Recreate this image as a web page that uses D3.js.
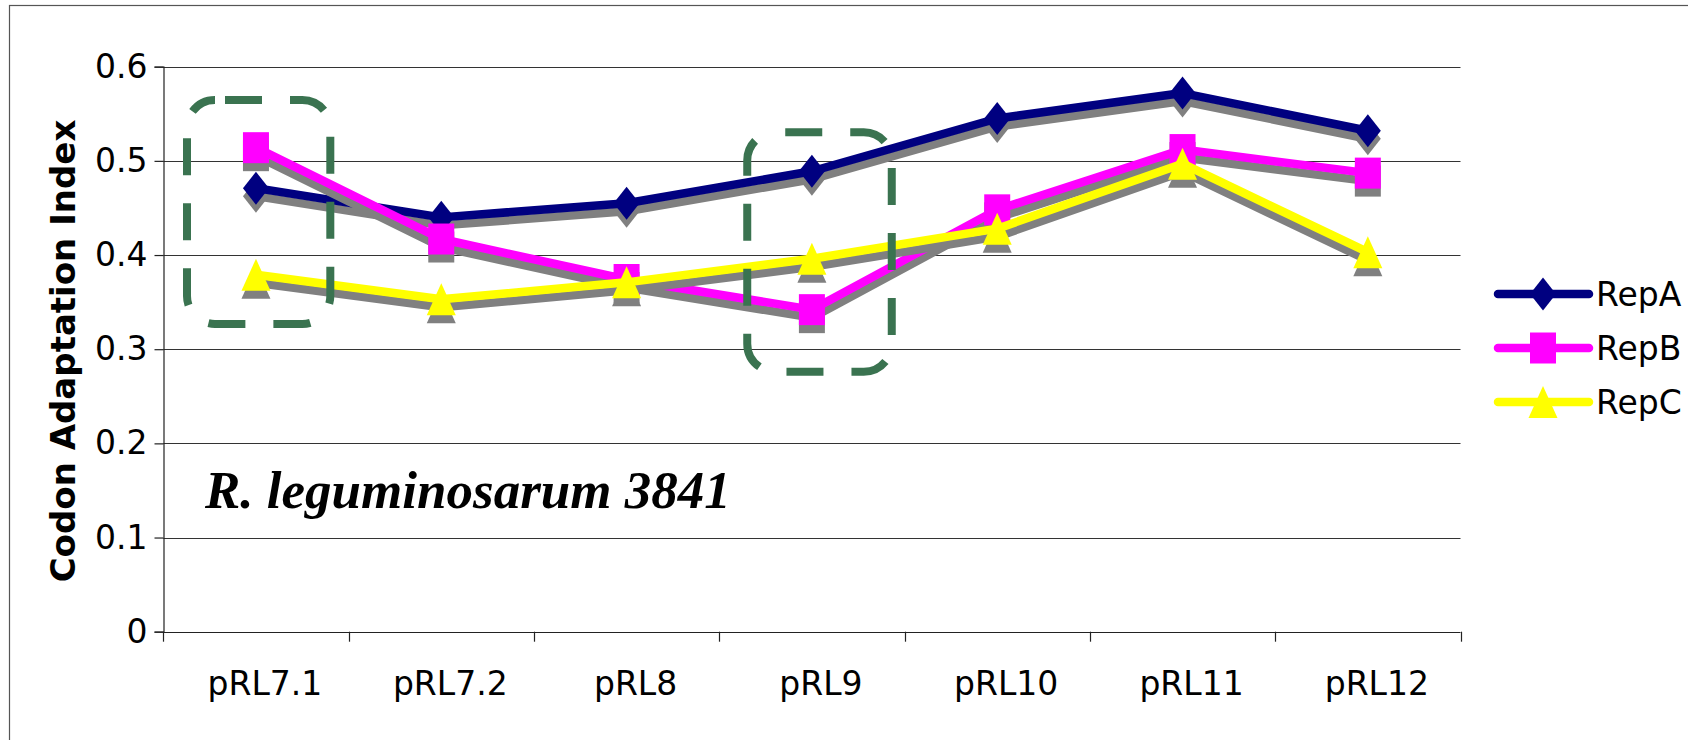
<!DOCTYPE html>
<html>
<head>
<meta charset="utf-8">
<script src="https://cdn.jsdelivr.net/npm/d3@7"></script>
<style>
  html, body { margin: 0; padding: 0; background: #fff; }
  svg { display: block; }
</style>
</head>
<body>
<svg id="chart" width="1688" height="740"></svg>
<script>
// Plasmids on the category axis
const categories = ["pRL7.1", "pRL7.2", "pRL8", "pRL9", "pRL10", "pRL11", "pRL12"];
// Codon adaptation index of each replication gene
const repA = [0.471, 0.440, 0.455, 0.489, 0.545, 0.572, 0.532];
const repB = [0.514, 0.417, 0.374, 0.342, 0.448, 0.512, 0.487];
const repC = [0.379, 0.353, 0.371, 0.396, 0.428, 0.497, 0.403];
const seriesNames = ["RepA", "RepB", "RepC"];
const yTicks = [0, 0.1, 0.2, 0.3, 0.4, 0.5, 0.6];
// Highlighted plasmids (value ranges enclosed by the dashed frames)
const highlights = [
  { category: "pRL7.1", top: 0.5646, bottom: 0.3268 },
  { category: "pRL9", top: 0.5303, bottom: 0.2761 }
];

const svg = d3.select("#chart");
const plot = { left: 163.3, right: 1460.5, top: 66.7, bottom: 631.7 };

const x = d3.scaleBand().domain(categories).range([plot.left, plot.right]);
const y = d3.scaleLinear().domain([0, 0.6]).range([plot.bottom, plot.top]);

const series = [
  { name: seriesNames[0], values: repA, color: "#000080", shape: "diamond" },
  { name: seriesNames[1], values: repB, color: "#ff00ff", shape: "square" },
  { name: seriesNames[2], values: repC, color: "#ffff00", shape: "triangle" }
];

// Outer chart frame
svg.append("rect")
  .attr("x", 9.5).attr("y", 5.5)
  .attr("width", 1700).attr("height", 760)
  .attr("fill", "none").attr("stroke", "#555").attr("stroke-width", 1.2);

// Horizontal gridlines
svg.append("g")
  .selectAll("line")
  .data(yTicks.filter(d => d > 0))
  .join("line")
  .attr("x1", plot.left).attr("x2", plot.right)
  .attr("y1", d => Math.round(y(d)) + 0.5).attr("y2", d => Math.round(y(d)) + 0.5)
  .attr("stroke", "#333").attr("stroke-width", 1.2);

// Y axis
const yAxis = d3.axisLeft(y).tickValues(yTicks).tickSize(9).tickPadding(7)
  .tickFormat(d => d === 0 ? "0" : d3.format(".1f")(d));
const gy = svg.append("g")
  .attr("transform", `translate(${Math.round(plot.left) + 0.5},0)`)
  .call(yAxis);
gy.select(".domain").attr("stroke", "#222").attr("stroke-width", 1.2);
gy.selectAll(".tick line").attr("stroke", "#222").attr("stroke-width", 1.2);
gy.selectAll(".tick text")
  .attr("font-family", "'DejaVu Sans', Verdana, sans-serif")
  .attr("font-size", 33).attr("fill", "#000");

// X axis with tick marks between categories
const xAxisLine = svg.append("g");
xAxisLine.append("line")
  .attr("x1", plot.left).attr("x2", plot.right)
  .attr("y1", Math.round(plot.bottom) + 0.5).attr("y2", Math.round(plot.bottom) + 0.5)
  .attr("stroke", "#222").attr("stroke-width", 1.2);
const boundaries = categories.map(c => x(c)).concat([x.range()[1]]);
xAxisLine.selectAll("line.tick")
  .data(boundaries)
  .join("line")
  .attr("class", "tick")
  .attr("x1", d => Math.round(d) + 0.5).attr("x2", d => Math.round(d) + 0.5)
  .attr("y1", plot.bottom).attr("y2", plot.bottom + 10)
  .attr("stroke", "#222").attr("stroke-width", 1.2);
xAxisLine.selectAll("text")
  .data(categories)
  .join("text")
  .attr("x", d => x(d) + x.bandwidth() / 2 + 9)
  .attr("y", 695)
  .attr("text-anchor", "middle")
  .attr("font-family", "'DejaVu Sans', Verdana, sans-serif")
  .attr("font-size", 33).attr("fill", "#000")
  .text(d => d);

// Y axis title
svg.append("text")
  .attr("transform", "translate(75,351) rotate(-90)")
  .attr("text-anchor", "middle")
  .attr("font-family", "'DejaVu Sans', Verdana, sans-serif")
  .attr("font-weight", "bold")
  .attr("font-size", 34)
  .text("Codon Adaptation Index");

// Marker shapes
function markerPath(shape) {
  if (shape === "diamond") return "M0,-16.5 L13,0 L0,16.5 L-13,0 Z";
  if (shape === "square") return "M-13,-15.5 H13 V15.5 H-13 Z";
  return "M0,-16 L14.5,16 H-14.5 Z";
}

const line = d3.line()
  .x((d, i) => x(categories[i]) + x.bandwidth() / 2)
  .y(d => y(d));

const shadowDy = 8;
series.forEach(s => {
  const g = svg.append("g");
  // drop shadow
  g.append("path")
    .attr("d", line(s.values))
    .attr("transform", `translate(0,${shadowDy})`)
    .attr("fill", "none").attr("stroke", "#808080")
    .attr("stroke-width", 8.5).attr("stroke-linejoin", "round");
  g.selectAll("path.shadow-marker")
    .data(s.values)
    .join("path")
    .attr("class", "shadow-marker")
    .attr("d", markerPath(s.shape))
    .attr("transform", (d, i) => `translate(${x(categories[i]) + x.bandwidth() / 2},${y(d) + shadowDy})`)
    .attr("fill", "#808080");
  // series line and markers
  g.append("path")
    .attr("d", line(s.values))
    .attr("fill", "none").attr("stroke", s.color)
    .attr("stroke-width", 8.5).attr("stroke-linejoin", "round");
  g.selectAll("path.marker")
    .data(s.values)
    .join("path")
    .attr("class", "marker")
    .attr("d", markerPath(s.shape))
    .attr("transform", (d, i) => `translate(${x(categories[i]) + x.bandwidth() / 2},${y(d)})`)
    .attr("fill", s.color);
});

// Dashed frames around highlighted plasmids
const frameOffsets = { "pRL7.1": [23.7, -18.3], "pRL9": [28, -12.8] };
svg.append("g")
  .selectAll("rect")
  .data(highlights)
  .join("rect")
  .attr("x", d => x(d.category) + frameOffsets[d.category][0])
  .attr("y", d => y(d.top))
  .attr("width", d => x.bandwidth() + frameOffsets[d.category][1] - frameOffsets[d.category][0])
  .attr("height", d => y(d.bottom) - y(d.top))
  .attr("rx", 28).attr("ry", 28)
  .attr("fill", "none")
  .attr("stroke", "#3a7350")
  .attr("stroke-width", 8)
  .attr("stroke-dasharray", "37 28")
  .attr("stroke-dashoffset", -10);

// Strain label
svg.append("text")
  .attr("x", 205).attr("y", 508)
  .attr("font-family", "'Liberation Serif', 'Times New Roman', serif")
  .attr("font-weight", "bold").attr("font-style", "italic")
  .attr("font-size", 53)
  .text("R. leguminosarum 3841");

// Legend
const legend = svg.append("g");
const legendY = [294, 348, 402];
series.forEach((s, i) => {
  const gl = legend.append("g").attr("transform", `translate(0,${legendY[i]})`);
  gl.append("line")
    .attr("x1", 1498).attr("x2", 1589)
    .attr("stroke", s.color).attr("stroke-width", 8.5)
    .attr("stroke-linecap", "round");
  gl.append("path")
    .attr("d", markerPath(s.shape))
    .attr("transform", "translate(1543,0)")
    .attr("fill", s.color);
  gl.append("text")
    .attr("x", 1596).attr("y", 12)
    .attr("font-family", "'DejaVu Sans', Verdana, sans-serif")
    .attr("font-size", 33).attr("fill", "#000")
    .text(s.name);
});
</script>
</body>
</html>
